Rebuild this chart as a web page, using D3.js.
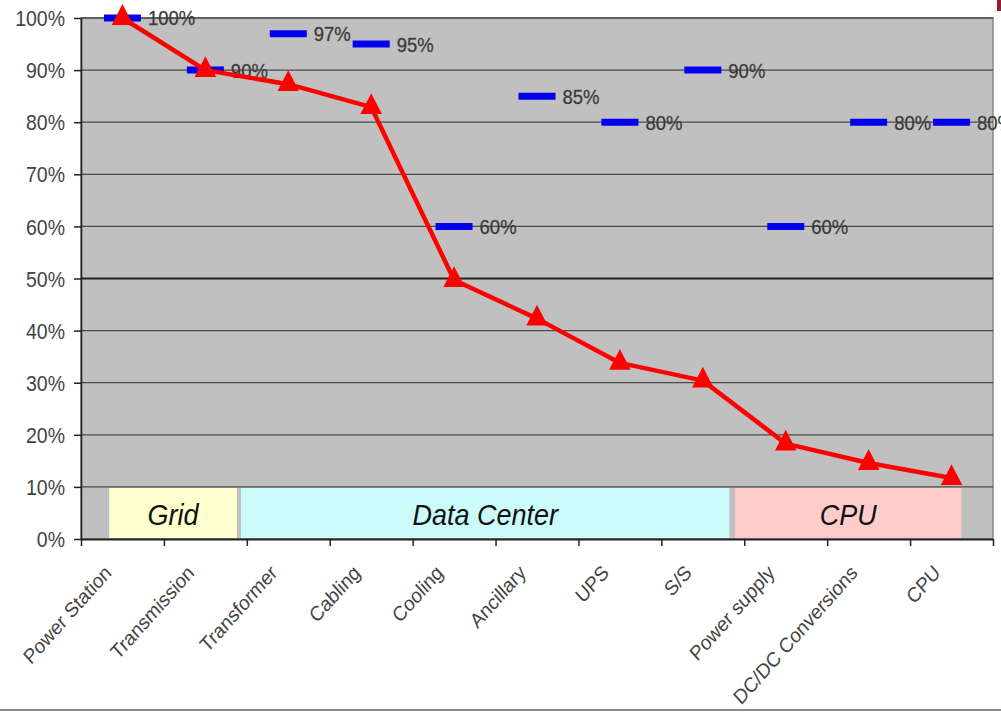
<!DOCTYPE html>
<html>
<head>
<meta charset="utf-8">
<script src="https://cdn.jsdelivr.net/npm/d3@7"></script>
<style>
  html, body { margin: 0; padding: 0; background: #fff; }
  svg { display: block; }
</style>
</head>
<body>
<svg id="chart" width="1001" height="712"></svg>
<script>
// stages along the power chain
const categories = ["Power Station", "Transmission", "Transformer", "Cabling", "Cooling",
  "Ancillary", "UPS", "S/S", "Power supply", "DC/DC Conversions", "CPU"]
// cumulative efficiency (red line)
const cumulative = [100, 90, 87.3, 82.9, 49.7, 42.3, 33.8, 30.4, 18.3, 14.6, 11.7]
// per-stage efficiency (blue dashes)
const stageEff = [100, 90, 97, 95, 60, 85, 80, 90, 60, 80, 80]
const yTicks = [0, 10, 20, 30, 40, 50, 60, 70, 80, 90, 100]
// grouping boxes, in category units along x
const groupNames = ["Grid", "Data Center", "CPU"]
const groupFrom = [0.34, 1.93, 7.89]
const groupTo = [1.88, 7.82, 10.62]
const groupColors = ["#ffffcf", "#cbfbfb", "#ffcccc"]

const svg = d3.select("#chart")
const m = {left: 81, right: 993, top: 18, bottom: 539}
// the source picture is stretched a bit vertically, texts follow that
const stretch = 1.12

const x = d3.scaleBand().domain(categories).range([m.left, m.right])
const xi = d3.scaleLinear().domain([0, categories.length]).range([m.left, m.right])
const y = d3.scaleLinear().domain([0, 100]).range([m.bottom, m.top])
const cx = (d) => x(d) + x.bandwidth() / 2

// plot background
svg.append("rect")
  .attr("x", m.left).attr("y", m.top)
  .attr("width", m.right - m.left).attr("height", m.bottom - m.top)
  .attr("fill", "#c0c0c0")
  .attr("stroke", "#8a8a8a").attr("stroke-width", 1.5)

// group boxes sit between 0% and 10%
svg.append("g")
  .selectAll("rect")
  .data(groupNames)
  .join("rect")
  .attr("x", (d, i) => xi(groupFrom[i]))
  .attr("width", (d, i) => xi(groupTo[i]) - xi(groupFrom[i]))
  .attr("y", y(10) + 1)
  .attr("height", y(0) - y(10) - 2)
  .attr("fill", (d, i) => groupColors[i])

svg.append("g")
  .selectAll("text")
  .data(groupNames)
  .join("text")
  .attr("transform", (d, i) =>
    `translate(${(xi(groupFrom[i]) + xi(groupTo[i])) / 2},${(y(0) + y(10)) / 2 + 1}) scale(1,${stretch})`)
  .attr("dy", "0.35em")
  .attr("text-anchor", "middle")
  .attr("font-family", "Liberation Sans, Arial, sans-serif")
  .attr("font-style", "italic")
  .attr("font-size", 27)
  .attr("fill", "#111")
  .text((d) => d)

// gridlines
svg.append("g")
  .selectAll("line")
  .data(yTicks.filter((t) => t > 0))
  .join("line")
  .attr("x1", m.left).attr("x2", m.right)
  .attr("y1", (d) => y(d)).attr("y2", (d) => y(d))
  .attr("stroke", (d) => (d === 50 ? "#222" : "#4a4a4a"))
  .attr("stroke-width", (d) => (d === 50 ? 2 : 1.3))

// y axis
const yAxis = svg.append("g")
  .attr("transform", `translate(${m.left},0)`)
  .call(d3.axisLeft(y).tickValues(yTicks).tickFormat((d) => d + "%").tickSize(7).tickSizeOuter(0))
yAxis.select(".domain").attr("stroke", "#222").attr("stroke-width", 1.6)
yAxis.selectAll(".tick line").attr("stroke", "#222").attr("stroke-width", 1.5)
yAxis.selectAll("text")
  .attr("x", null)
  .attr("dy", "0.35em")
  .attr("transform", `translate(-16,0) scale(1,${stretch})`)
  .attr("font-family", "Liberation Sans, Arial, sans-serif")
  .attr("font-size", 19.5)
  .attr("fill", "#444")

// x axis: ticks at category boundaries
const xAxis = svg.append("g")
  .attr("transform", `translate(0,${m.bottom})`)
  .call(d3.axisBottom(xi).tickValues(d3.range(categories.length + 1)).tickSize(7).tickFormat("").tickSizeOuter(0))
xAxis.select(".domain").attr("stroke", "#222").attr("stroke-width", 2)
xAxis.selectAll(".tick line").attr("stroke", "#222").attr("stroke-width", 1.5)

svg.append("g")
  .selectAll("text")
  .data(categories)
  .join("text")
  .attr("transform", (d) => `translate(${cx(d) - 10},${m.bottom + 35}) scale(1,${stretch}) rotate(-45)`)
  .attr("text-anchor", "end")
  .attr("font-family", "Liberation Sans, Arial, sans-serif")
  .attr("font-size", 18.5)
  .attr("fill", "#444")
  .text((d) => d)

// per-stage dashes and labels
const dashW = 37
svg.append("g")
  .selectAll("line")
  .data(categories)
  .join("line")
  .attr("x1", (d) => cx(d) - dashW / 2)
  .attr("x2", (d) => cx(d) + dashW / 2)
  .attr("y1", (d, i) => y(stageEff[i]))
  .attr("y2", (d, i) => y(stageEff[i]))
  .attr("stroke", "#0000ee")
  .attr("stroke-width", 7)

svg.append("g")
  .selectAll("text")
  .data(categories)
  .join("text")
  .attr("transform", (d, i) => `translate(${cx(d) + dashW / 2 + 7},${y(stageEff[i])}) scale(1,${stretch})`)
  .attr("dy", "0.36em")
  .attr("font-family", "Liberation Sans, Arial, sans-serif")
  .attr("font-size", 18.5)
  .attr("fill", "#333")
  .attr("stroke", "#555")
  .attr("stroke-width", 0.3)
  .text((d, i) => stageEff[i] + "%")

// cumulative line with triangle markers
const line = d3.line()
  .x((d, i) => cx(categories[i]))
  .y((d) => y(d))

svg.append("path")
  .datum(cumulative)
  .attr("d", line)
  .attr("fill", "none")
  .attr("stroke", "#ff0000")
  .attr("stroke-width", 4.5)
  .attr("stroke-linejoin", "round")

svg.append("g")
  .selectAll("path")
  .data(cumulative)
  .join("path")
  .attr("transform", (d, i) => `translate(${cx(categories[i])},${y(d)}) scale(1,${stretch})`)
  .attr("d", d3.symbol(d3.symbolTriangle, 200))
  .attr("fill", "#ff0000")

// frame leftovers of the original picture
svg.append("line")
  .attr("x1", 0).attr("x2", 1001).attr("y1", 710).attr("y2", 710)
  .attr("stroke", "#8a8a8a").attr("stroke-width", 2)
svg.append("rect")
  .attr("x", 997).attr("y", 0).attr("width", 4).attr("height", 11)
  .attr("fill", "#9b1c2c")
</script>
</body>
</html>
